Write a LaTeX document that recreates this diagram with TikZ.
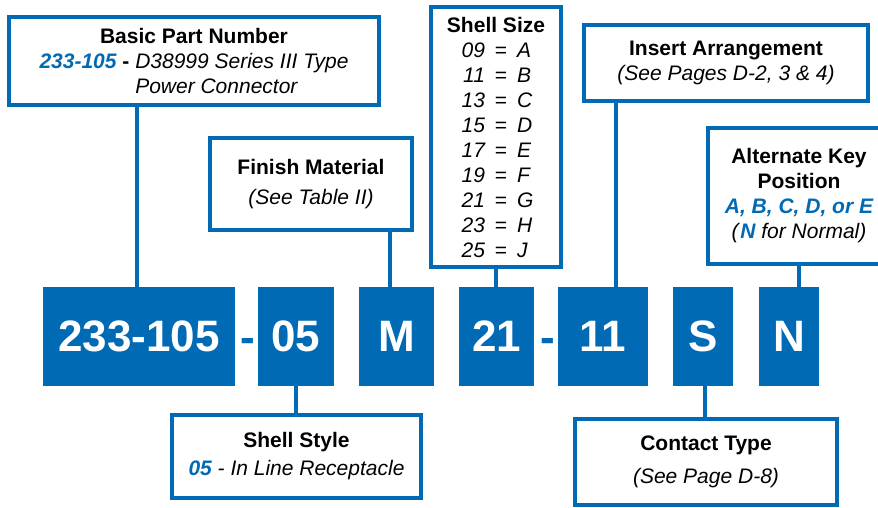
\documentclass[tikz,border=0pt]{standalone}
\usepackage{fontspec}
\setmainfont{Liberation Sans}
\usepackage{xcolor}
\usepackage{tikz}
\usetikzlibrary{positioning, calc}
\definecolor{pnblue}{RGB}{0,106,180}
\newcommand{\pncode}[1]{{\color{pnblue}\bfseries\itshape #1}}
\newcommand{\sizerow}[2]{\makebox[26pt][r]{\itshape #1}\makebox[32pt]{=}\makebox[16pt][l]{\itshape #2}}
\tikzset{
  infobox/.style={rectangle, draw=pnblue, fill=white, line width=4pt,
    inner sep=0pt, align=center, font=\fontsize{21}{25}\selectfont},
  codebox/.style={rectangle, fill=pnblue, inner sep=0pt, minimum height=99pt,
    text=white, font=\fontsize{44}{44}\selectfont\bfseries},
  dashmark/.style={text=pnblue, inner sep=0pt, anchor=base,
    font=\fontsize{44}{44}\selectfont\bfseries},
  link/.style={draw=pnblue, line width=4pt}
}

\begin{document}
\begin{tikzpicture}[x=1pt, y=-1pt]
  \clip (0,0) rectangle (878,508);

  % Part number blocks
  \node[codebox, minimum width=192pt] (c233) at (139,336.5) {233-105};
  \node[codebox, minimum width=76pt]  (c05)  at (296,336.5) {05};
  \node[codebox, minimum width=75pt]  (cM)   at (396.5,336.5) {M};
  \node[codebox, minimum width=75pt]  (c21)  at (496.5,336.5) {21};
  \node[codebox, minimum width=90pt]  (c11)  at (603,336.5) {11};
  \node[codebox, minimum width=60pt]  (cS)   at (703,336.5) {S};
  \node[codebox, minimum width=60pt]  (cN)   at (789,336.5) {N};
  \node[dashmark] (d1) at (248,352.3) {-};
  \node[dashmark] (d2) at (547.5,352.3) {-};

  % Description boxes
  \node[infobox, minimum width=370pt, minimum height=88pt] (basic) at (194,61)
    {\rule{0pt}{23pt}\textbf{Basic Part Number}\\
     \begin{tabular}[t]{@{}l@{}}
       \pncode{233-105} \textbf{-} \textit{D38999 Series III Type}\\
       \hphantom{\pncode{233-105} \textbf{-} }\textit{Power Connector}
     \end{tabular}};
  \node[infobox, minimum width=202pt, minimum height=92pt,
    font=\fontsize{21}{30}\selectfont] (finish) at (311,184)
    {\textbf{Finish Material}\\\textit{(See Table II)}};
  \node[infobox, minimum width=130pt, minimum height=260pt] (size) at (496,137)
    {\textbf{Shell Size}\\
     \sizerow{09}{A}\\ \sizerow{11}{B}\\ \sizerow{13}{C}\\
     \sizerow{15}{D}\\ \sizerow{17}{E}\\ \sizerow{19}{F}\\
     \sizerow{21}{G}\\ \sizerow{23}{H}\\ \sizerow{25}{J}};
  \node[infobox, minimum width=284pt, minimum height=76pt] (insert) at (726,63)
    {\textbf{Insert Arrangement}\\\textit{(See Pages D-2, 3 \& 4)}};
  \node[infobox, minimum width=182pt, minimum height=136pt] (altkey) at (799,196)
    {\textbf{Alternate Key}\\\textbf{Position}\\
     \pncode{A, B, C, D, or E}\\\textit{(}\pncode{N}\textit{ for Normal)}};
  \node[infobox, minimum width=249pt, minimum height=83pt,
    font=\fontsize{21}{28}\selectfont] (style) at (296.5,456.5)
    {\textbf{Shell Style}\\\pncode{05}\textit{ - In Line Receptacle}};
  \node[infobox, minimum width=262pt, minimum height=86pt,
    font=\fontsize{21}{33}\selectfont] (contact) at (706,462)
    {\textbf{Contact Type}\\\textit{(See Page D-8)}};

  % Connectors
  \draw[link] ([xshift=-2pt]c233.north) -- ([xshift=-2pt]c233.north |- basic.south);
  \draw[link] ([xshift=-7pt]cM.north) -- ([xshift=-7pt]cM.north |- finish.south);
  \draw[link] (size.south) -- (size.south |- c21.north);
  \draw[link] ([xshift=13pt]c11.north) -- ([xshift=13pt]c11.north |- insert.south);
  \draw[link] (altkey.south) -- (altkey.south |- cN.north);
  \draw[link] (c05.south) -- (c05.south |- style.north);
  \draw[link] ([xshift=2pt]cS.south) -- ([xshift=2pt]cS.south |- contact.north);
\end{tikzpicture}
\end{document}
